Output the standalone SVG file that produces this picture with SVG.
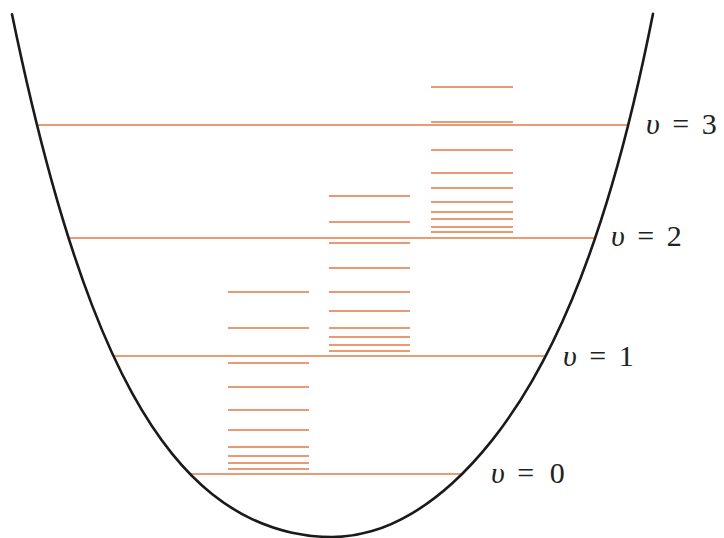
<svg xmlns="http://www.w3.org/2000/svg" width="724" height="538" viewBox="0 0 724 538">
<style>
.lvl{stroke:#E47A45;stroke-width:1.6;fill:none}
.rot{stroke:#E47A45;stroke-width:1.6;fill:none}
.pot{stroke:#1a1a1a;stroke-width:2.6;fill:none;stroke-linecap:round}
.lab{font-family:"Liberation Serif","Times New Roman",serif;font-size:30px;fill:#222;word-spacing:5px}
.sym{font-style:italic}
</style>
<rect width="724" height="538" fill="#fff"/>
<g id="connectors">
<g id="levels">
<line class="lvl" x1="37" y1="125" x2="628" y2="125"/>
<line class="lvl" x1="69" y1="238" x2="596" y2="238"/>
<line class="lvl" x1="113" y1="356" x2="545" y2="356"/>
<line class="lvl" x1="190" y1="474" x2="462" y2="474"/>
</g>
</g>
<g id="rot0">
<path class="rot" d="M228 292H309M228 328H309M228 363H309M228 387H309M228 410H309M228 430H309M228 447H309M228 456H309M228 463H309M228 469H309"/>
</g>
<g id="rot1">
<path class="rot" d="M329 196H410M329 222H410M329 243H410M329 268H410M329 292H410M329 311H410M329 328H410M329 337H410M329 345H410M329 351H410"/>
</g>
<g id="rot2">
<path class="rot" d="M431 87H513M431 122H513M431 150H513M431 173H513M431 188H513M431 202H513M431 212H513M431 219H513M431 227H513M431 232H513"/>
</g>
<g id="potential">
<path class="pot" d="M12 14.3C25.33 78.9 38.67 134.2 52 182.1C65.33 230 78.67 270.46 92 305.1C105.33 339.74 118.67 368.56 132 392.91C145.33 417.26 158.67 437.14 172 453.66C185.33 470.18 198.67 483.34 212 494C225.33 504.66 238.67 512.83 252 519.12C265.33 525.41 278.67 529.82 292 532.72C305.33 535.62 318.67 537 332 537C345.33 537 358.67 535.04 372 531.1C385.33 527.16 398.67 521.26 412 513.35C425.33 505.44 438.67 495.54 452 483.47C465.33 471.4 478.67 457.18 492 440.34C505.33 423.5 518.67 404.06 532 381.03C545.33 358 558.67 331.45 572 299.5C585.33 267.55 598.67 230.26 612 184.7C625.67 138 639.33 82.64 653 13.7"/>
</g>
<g id="label3"><text class="lab" x="646" y="134"><tspan class="sym">υ</tspan> = 3</text></g>
<g id="label2"><text class="lab" x="611" y="246"><tspan class="sym">υ</tspan> = 2</text></g>
<g id="label1"><text class="lab" x="563" y="366"><tspan class="sym">υ</tspan> = 1</text></g>
<g id="label0"><text class="lab" x="491" y="483"><tspan class="sym">υ</tspan> = <tspan dx="3">0</tspan></text></g>
</svg>
